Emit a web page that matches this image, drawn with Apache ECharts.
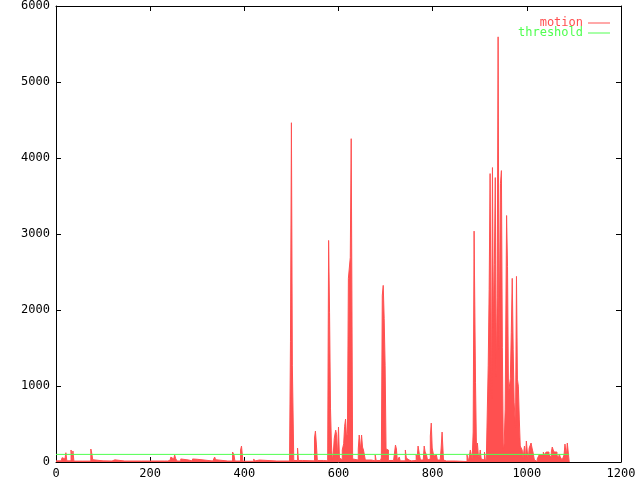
<!DOCTYPE html>
<html><head><meta charset="utf-8">
<script src="https://cdn.jsdelivr.net/npm/echarts@6/dist/echarts.min.js"></script>
<style>html,body{margin:0;padding:0;background:#fff}#c{width:640px;height:480px}</style>
</head><body><div id="c"></div><script>
// x ticks / y ticks
const xMin = 0, xMax = 1200, xStep = 200;
const yMin = 0, yMax = 6000, yStep = 1000;

// motion: [frame, value] pairs (value holds until next frame)
const motion = [
[0,15],[11,35],[13,57],[15,70],[17,40],[19,15],[21,122],[23,15],[32,158],[34,12],[36,145],[38,12],
[57,25],[59,12],[74,171],[76,114],[78,30],[81,15],[100,28],[102,13],[119,28],[121,13],[123,28],[125,13],
[146,28],[148,13],[182,28],[184,13],[206,28],[208,13],[231,28],[233,13],[237,20],[242,35],[244,65],[246,65],
[248,40],[250,26],[252,92],[254,48],[257,13],[265,40],[269,26],[282,13],[290,40],[293,35],[301,13],
[333,20],[337,65],[339,30],[341,48],[343,13],[365,26],[367,13],[375,131],[378,92],[380,13],[392,158],
[394,210],[397,10],[420,40],[422,13],[424,26],[432,13],[469,26],[471,13],[496,15],[498,1589],[500,4464],
[502,1274],[505,20],[513,184],[515,20],[524,30],[526,15],[549,315],[551,407],[553,236],[555,20],[568,30],
[570,15],[577,30],[579,2915],[581,1970],[583,709],[585,223],[587,26],[589,118],[591,310],[594,420],
[596,360],[598,52],[600,460],[602,52],[604,30],[608,158],[611,240],[613,470],[615,565],[617,330],[619,370],
[621,2416],[623,2390],[625,2692],[627,4254],[630,40],[632,26],[642,171],[644,355],[647,160],[649,355],
[651,197],[653,158],[657,26],[670,15],[678,92],[680,20],[689,40],[691,52],[693,2193],[695,2324],[697,1891],
[699,1274],[701,171],[704,158],[706,20],[717,40],[719,15],[721,223],[723,171],[725,15],[729,66],[731,15],
[742,158],[744,52],[746,26],[750,15],[755,40],[757,20],[765,92],[767,40],[769,210],[772,92],[774,26],
[776,15],[778,26],[780,15],[782,210],[784,131],[787,92],[789,26],[791,13],[793,40],[795,341],[797,512],
[799,184],[801,118],[803,79],[806,92],[808,66],[810,26],[812,13],[814,26],[816,13],[818,184],[820,394],
[823,26],[825,13],[829,26],[831,13],[848,26],[850,6],[873,92],[876,6],[880,158],[882,92],[884,40],
[886,394],[888,3038],[891,1050],[893,171],[895,250],[897,92],[899,52],[901,158],[903,40],[906,26],
[910,131],[912,13],[914,40],[916,66],[918,1274],[920,2272],[922,3795],[925,827],[927,3874],[929,1773],
[931,2600],[933,3742],[935,1129],[937,2167],[939,5594],[941,1484],[944,3663],[946,3834],[948,1510],
[950,158],[952,250],[954,696],[957,3243],[959,2574],[961,893],[963,893],[965,1100],[967,1707],[969,2416],
[971,1484],[973,788],[976,460],[978,2442],[980,1090],[982,998],[984,565],[986,210],[988,210],[990,158],
[992,52],[995,210],[997,26],[999,276],[1001,131],[1003,40],[1005,184],[1007,197],[1009,250],[1011,184],
[1013,131],[1016,26],[1020,6],[1022,40],[1024,66],[1026,92],[1028,66],[1030,92],[1035,131],[1037,92],
[1039,79],[1041,131],[1043,118],[1045,131],[1047,92],[1050,66],[1052,131],[1054,197],[1056,158],
[1058,131],[1060,105],[1062,131],[1064,92],[1067,52],[1069,105],[1071,66],[1073,52],[1075,26],[1077,40],
[1079,92],[1081,236],[1084,79],[1086,250],[1088,236],[1090,0]
];

// threshold: constant level over the recorded frames
const thresholdLevel = 100;
const thresholdFrames = [0, 1090];

const RED = '#ff5050', GREEN = '#50ff50';
const FONT = 'DejaVu Sans Mono';

function axisBase(pos, min, max, step, showLabel) {
  return {
    type: 'value', position: pos, min: min, max: max, interval: step,
    axisLine: { show: true, onZero: false, lineStyle: { color: '#000', width: 1 } },
    axisTick: { show: true, inside: true, length: 5, lineStyle: { color: '#000', width: 1 } },
    axisLabel: { show: showLabel, color: '#000', fontFamily: FONT, fontSize: 12, margin: 6,
                 showMinLabel: true, showMaxLabel: true, formatter: v => String(v) },
    splitLine: { show: false }
  };
}

const chart = echarts.init(document.getElementById('c'), null, { renderer: 'canvas' });
chart.setOption({
  animation: false,
  backgroundColor: '#fff',
  grid: { left: 56, right: 19, top: 5, bottom: 18, containLabel: false },
  xAxis: [axisBase('bottom', xMin, xMax, xStep, true), axisBase('top', xMin, xMax, xStep, false)],
  yAxis: [axisBase('left', yMin, yMax, yStep, true), axisBase('right', yMin, yMax, yStep, false)],
  legend: {
    orient: 'vertical', right: 25, top: 12, align: 'right', padding: 5,
    icon: 'rect', itemWidth: 22, itemHeight: 1, itemGap: -2,
    textStyle: { fontFamily: FONT, fontSize: 12 },
    data: [
      { name: 'motion', textStyle: { color: RED } },
      { name: 'threshold', textStyle: { color: GREEN } }
    ]
  },
  series: [
    {
      name: 'motion', type: 'line', step: 'end', data: motion,
      xAxisIndex: 0, yAxisIndex: 0,
      showSymbol: false, symbol: 'none',
      lineStyle: { color: RED, width: 1 },
      itemStyle: { color: RED },
      areaStyle: { color: RED, opacity: 1 },
      z: 2
    },
    {
      name: 'threshold', type: 'line',
      data: thresholdFrames.map(f => [f, thresholdLevel]),
      xAxisIndex: 0, yAxisIndex: 0,
      showSymbol: false, symbol: 'none',
      lineStyle: { color: GREEN, width: 1 },
      itemStyle: { color: GREEN },
      z: 3
    }
  ]
});
</script></body></html>
